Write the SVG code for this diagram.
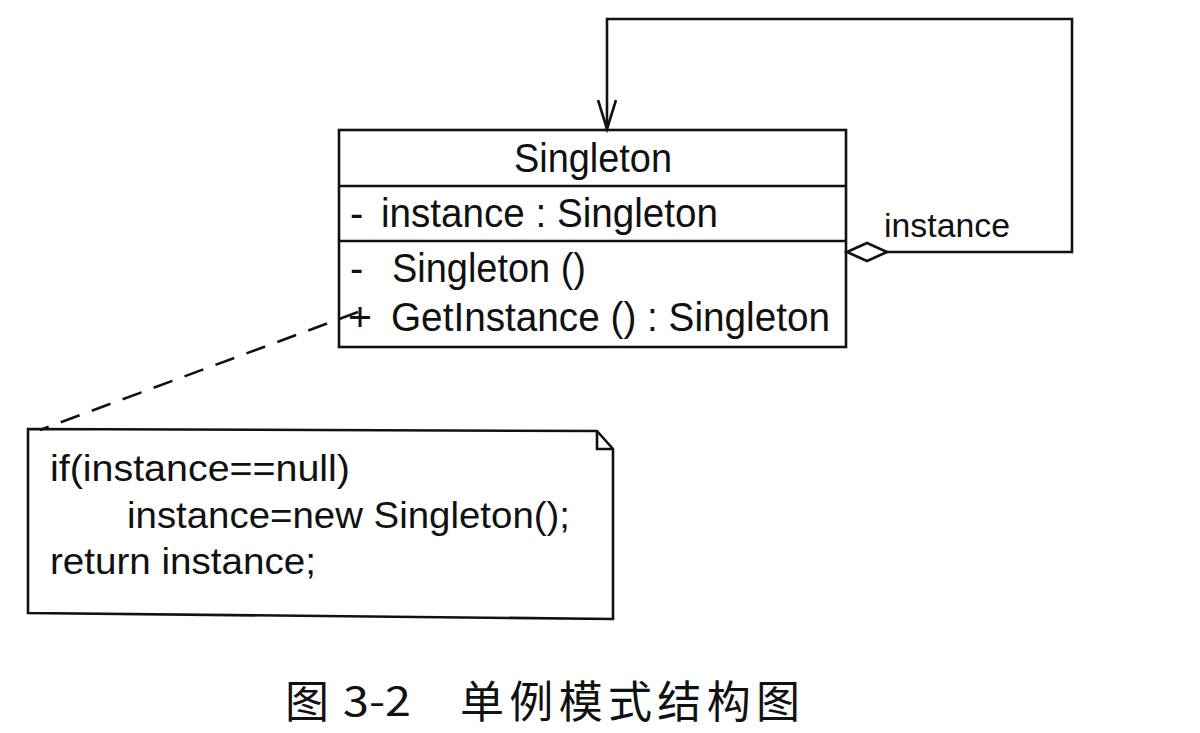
<svg xmlns="http://www.w3.org/2000/svg" width="1200" height="733" viewBox="0 0 1200 733">
<defs>
<style>
.ln{fill:none;stroke:#111;stroke-width:2.6}
.t{font-family:"Liberation Sans",Arial,sans-serif;fill:#111}
.cap{font-family:"Noto Sans CJK SC",sans-serif;fill:#111}
</style>
</defs>
<rect width="1200" height="733" fill="#fff"/>
<g id="connectors">
<polyline class="ln" points="886,252 1072,252 1072,19 607,19 607,129"/>
<polyline class="ln" points="598,100 607,129 616,100"/>
<polygon class="ln" points="847,252 867,243 887,252 867,261" style="fill:#fff"/>
<line class="ln" x1="358" y1="312" x2="40" y2="430" stroke-dasharray="20,13"/>
<text class="t" x="884" y="237" font-size="33" textLength="126" lengthAdjust="spacingAndGlyphs">instance</text>
</g>
<g id="singleton">
<rect class="ln" x="339" y="130" width="507" height="217"/>
<line class="ln" x1="339" y1="186" x2="846" y2="186"/>
<line class="ln" x1="339" y1="241" x2="846" y2="241"/>
<text class="t" x="593" y="172" font-size="40" text-anchor="middle" textLength="158" lengthAdjust="spacingAndGlyphs">Singleton</text>
<text class="t" x="350" y="227" font-size="40">-</text>
<text class="t" x="381" y="227" font-size="40" textLength="337" lengthAdjust="spacingAndGlyphs">instance  : Singleton</text>
<text class="t" x="350" y="282" font-size="40">-</text>
<text class="t" x="392" y="282" font-size="40" textLength="194" lengthAdjust="spacingAndGlyphs">Singleton ()</text>
<text class="t" x="348" y="331" font-size="40" textLength="24" lengthAdjust="spacingAndGlyphs">+</text>
<text class="t" x="391" y="331" font-size="40" textLength="439" lengthAdjust="spacingAndGlyphs">GetInstance ()  : Singleton</text>
</g>
<g id="note">
<polygon class="ln" points="28,429 597,431 613,449 613,619 28,613"/>
<polyline class="ln" points="597,431 597,449 613,449"/>
<text class="t" x="50" y="481" font-size="36" textLength="300" lengthAdjust="spacingAndGlyphs">if(instance==null)</text>
<text class="t" x="127" y="528" font-size="36" textLength="443" lengthAdjust="spacingAndGlyphs">instance=new Singleton();</text>
<text class="t" x="50" y="574" font-size="36" textLength="266" lengthAdjust="spacingAndGlyphs">return instance;</text>
</g>
<g id="caption">
<text class="cap" x="285" y="718" font-size="44">图</text>
<text class="cap" x="343" y="716" font-size="40" textLength="68" lengthAdjust="spacingAndGlyphs">3-2</text>
<text class="cap" x="460" y="718" font-size="44" textLength="340" lengthAdjust="spacing">单例模式结构图</text>
</g>
</svg>
